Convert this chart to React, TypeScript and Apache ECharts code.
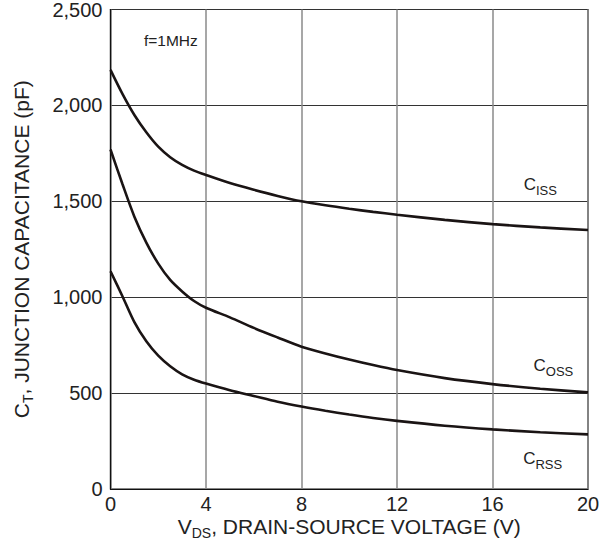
import React, { useEffect, useRef } from "react";
import * as echarts from "echarts";

const vds = [0, 0.5, 1, 1.5, 2, 2.5, 3, 3.5, 4, 5, 6, 7, 8, 9, 10, 11, 12, 14, 16, 18, 20];
const ciss = [2185, 2060, 1950, 1860, 1785, 1730, 1690, 1660, 1637, 1595, 1560, 1528, 1500, 1479, 1461, 1445, 1430, 1403, 1381, 1364, 1350];
const coss = [1770, 1590, 1420, 1285, 1175, 1090, 1030, 980, 945, 895, 840, 790, 742, 707, 675, 646, 620, 578, 547, 523, 504];
const crss = [1135, 1005, 870, 770, 695, 640, 598, 570, 550, 515, 485, 455, 430, 408, 388, 370, 355, 330, 311, 296, 285];

const curveLabels = [
  { main: "C", sub: "ISS", at: [18.0, 1595] },
  { main: "C", sub: "OSS", at: [18.55, 652] },
  { main: "C", sub: "RSS", at: [18.1, 167] },
];
const noteText = "f=1MHz";
const noteAt = [2.53, 2336];

const FONT = "'Liberation Sans', Arial, sans-serif";

export default function App() {
  const ref = useRef<HTMLDivElement>(null);
  useEffect(() => {
    document.body.style.margin = "0";
    if (!ref.current) return;
    const chart = echarts.init(ref.current, undefined, { renderer: "svg" });
    const seriesVals = [ciss, coss, crss];
    const fmt = (v: number) => String(v).replace(/\B(?=(\d{3})+(?!\d))/g, ",");
    const richLabel = {
      a: { fontSize: 17, color: "#222", fontFamily: FONT, lineHeight: 20, verticalAlign: "bottom" },
      s: { fontSize: 13, color: "#222", fontFamily: FONT, lineHeight: 14, verticalAlign: "bottom", padding: [0, 0, -4, 0] },
    };
    const hidden = { symbol: "circle", symbolSize: 1, itemStyle: { color: "rgba(0,0,0,0)" } };
    const series: any[] = seriesVals.map((vals, i) => ({
      type: "line",
      data: vds.map((x, j) => [x, vals[j]]),
      showSymbol: false,
      smooth: 0.3,
      lineStyle: { color: "#1a1414", width: 2.6 },
      markPoint: {
        ...hidden,
        silent: true,
        data: [
          {
            coord: curveLabels[i].at,
            label: {
              show: true,
              position: "inside",
              formatter: `{a|${curveLabels[i].main}}{s|${curveLabels[i].sub}}`,
              rich: richLabel,
            },
          },
          ...(i === 0
            ? [
                {
                  coord: noteAt,
                  label: {
                    show: true,
                    position: "inside",
                    formatter: noteText,
                    fontSize: 15.5,
                    color: "#222",
                    fontFamily: FONT,
                  },
                },
              ]
            : []),
        ],
      },
    }));
    const nameRich = {
      a: { fontSize: 21, color: "#222", fontFamily: FONT, lineHeight: 20, verticalAlign: "bottom" },
      s: { fontSize: 14, color: "#222", fontFamily: FONT, lineHeight: 14, verticalAlign: "bottom", padding: [0, 0, -3, 0] },
    };
    chart.setOption({
      animation: false,
      backgroundColor: "#fff",
      grid: {
        left: 110.5,
        right: 20,
        top: 9.5,
        bottom: 51,
        show: true,
        borderColor: "#111",
        borderWidth: 1.2,
        containLabel: false,
        outerBoundsMode: "none",
      },
      xAxis: {
        type: "value",
        min: 0,
        max: 20,
        interval: 4,
        name: "{a|V}{s|DS}{a|, DRAIN-SOURCE VOLTAGE (V)}",
        nameLocation: "middle",
        nameGap: 28,
        nameMoveOverlap: false,
        nameTextStyle: { rich: nameRich },
        axisLine: { show: true, lineStyle: { color: "#111", width: 1.2 } },
        axisTick: { show: false },
        axisLabel: { fontSize: 20, lineHeight: 18, color: "#222", fontFamily: FONT, margin: 6 },
        splitLine: { show: true, lineStyle: { color: "#8a8a8a", width: 1.5 } },
      },
      yAxis: {
        type: "value",
        min: 0,
        max: 2500,
        interval: 500,
        name: "{a|C}{s|T}{a|, JUNCTION CAPACITANCE (pF)}",
        nameLocation: "middle",
        nameGap: 79,
        nameMoveOverlap: false,
        nameRotate: 90,
        nameTextStyle: { rich: nameRich },
        axisLine: { show: true, lineStyle: { color: "#111", width: 1.2 } },
        axisTick: { show: false },
        axisLabel: { fontSize: 20, color: "#222", fontFamily: FONT, margin: 8, formatter: fmt },
        splitLine: { show: true, lineStyle: { color: "#333", width: 1 } },
      },
      series,
    });
    return () => chart.dispose();
  }, []);
  return <div ref={ref} style={{ width: 608, height: 540 }} />;
}
